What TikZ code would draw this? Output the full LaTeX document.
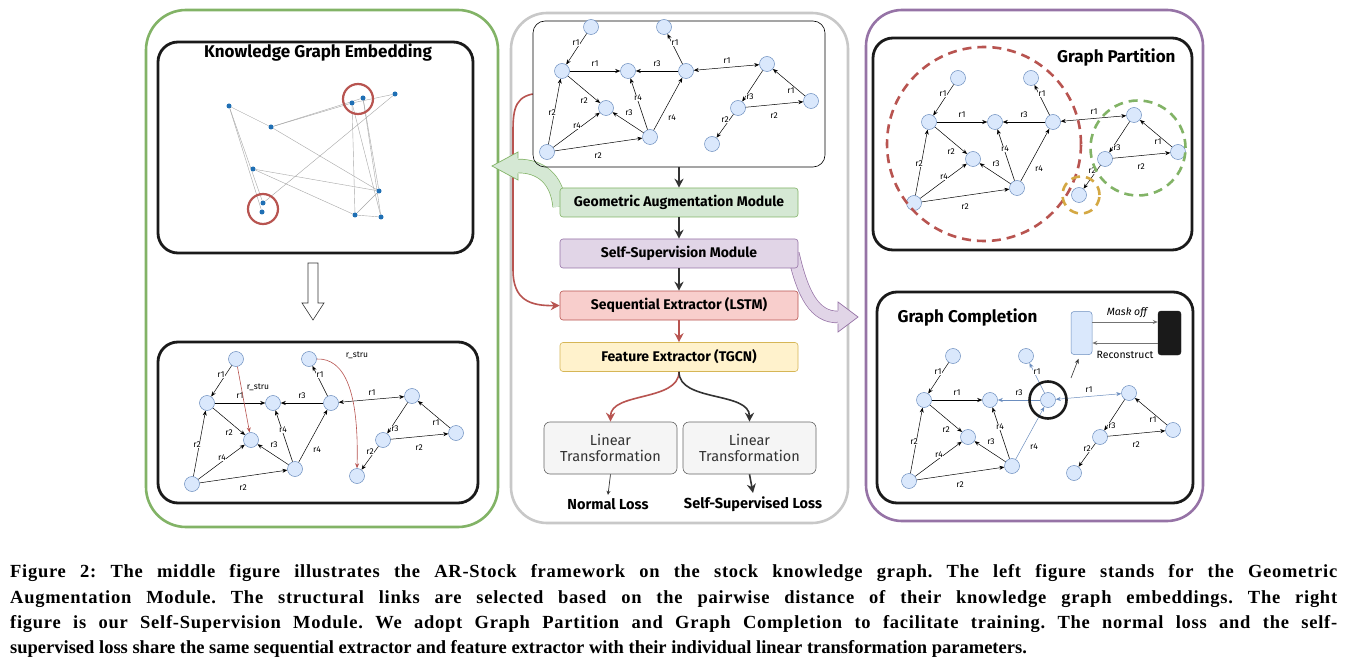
\documentclass[tikz,border=0pt]{standalone}
\usepackage{fontspec}
\setmainfont{Liberation Serif}
\newfontfamily\dfont{Fira Sans}
\newfontfamily\capwide[LetterSpace=4]{Liberation Serif}
\usetikzlibrary{arrows.meta,calc}
\pgfdeclarelayer{bg}
\pgfsetlayers{bg,main}
\definecolor{gstroke}{HTML}{82B366}
\definecolor{gfill}{HTML}{D5E8D4}
\definecolor{pstroke}{HTML}{9673A6}
\definecolor{pfill}{HTML}{E1D5E7}
\definecolor{rstroke}{HTML}{B85450}
\definecolor{rfill}{HTML}{F8CECC}
\definecolor{ystroke}{HTML}{D6B656}
\definecolor{yfill}{HTML}{FFF2CC}
\definecolor{nfill}{HTML}{DAE8FC}
\definecolor{nstroke}{HTML}{6C8EBF}
\definecolor{dk}{HTML}{333333}
\definecolor{emb}{HTML}{1F6FB4}
\definecolor{frgray}{HTML}{C8C8C8}
\definecolor{ltfill}{HTML}{F5F5F5}
\definecolor{ltstroke}{HTML}{666666}
\definecolor{orng}{HTML}{D4A843}
\definecolor{frame}{HTML}{1A1A1A}
\tikzset{
 gn/.style={circle,fill=nfill,draw=nstroke,line width=0.5pt,minimum size=15pt,inner sep=0pt},
 ge/.style={line width=0.5pt,-{Stealth[length=5pt,width=4pt]}},
 gbi/.style={line width=0.5pt,{Stealth[length=5pt,width=4pt]}-{Stealth[length=5pt,width=4pt]}},
 gl/.style={font=\dfont\fontsize{8.5}{9}\selectfont,fill=white,inner sep=0.4pt},
 bluee/.style={color=nstroke},
 modbox/.style={rectangle,rounded corners=3pt,line width=0.6pt,minimum width=238pt,minimum height=29pt,font=\dfont\bfseries\fontsize{14}{16}\selectfont},
 ltbox/.style={rectangle,rounded corners=6pt,line width=0.6pt,fill=ltfill,draw=ltstroke,minimum width=133pt,minimum height=52pt,align=center,text=dk,font=\dfont\fontsize{14.5}{16}\selectfont},
 losslab/.style={font=\dfont\bfseries\fontsize{14.5}{16}\selectfont},
 flowarr/.style={dk,line width=1.6pt,-{Stealth[length=9pt,width=9pt]}},
 redarr/.style={rstroke,line width=1.6pt,-{Stealth[length=9pt,width=9pt]}},
 embn/.style={circle,fill=emb,inner sep=0pt,minimum size=5pt},
 embe/.style={draw=black!35,line width=0.4pt},
 panelframe/.style={line width=2.8pt,rounded corners=20pt,draw=frame},
 ptitle/.style={font=\dfont\bfseries\fontsize{17}{19}\selectfont},
 capt/.style={font=\fontsize{18.5}{20}\selectfont\bfseries\frenchspacing,inner sep=0pt},
 captw/.style={font=\capwide\fontsize{18.5}{20}\selectfont\bfseries\frenchspacing,inner sep=0pt},
 rstru/.style={rstroke,line width=0.6pt,-{Stealth[length=5pt,width=4pt]}},
 smalltxt/.style={font=\dfont\fontsize{10.5}{12}\selectfont},
}
\newcommand\kgraph[4]{%
\begin{scope}[shift={(#2,#3)}]
\node[gn] (#1A) at (591,27) {};
\node[gn] (#1B) at (562,71) {};
\node[gn] (#1C) at (628,71) {};
\node[gn] (#1D) at (686,71) {};
\node[gn] (#1E) at (664,27) {};
\node[gn] (#1F) at (606,108) {};
\node[gn] (#1G) at (547,152) {};
\node[gn] (#1H) at (650,137) {};
\node[gn] (#1I) at (767,64) {};
\node[gn] (#1J) at (738,108) {};
\node[gn] (#1K) at (811,101) {};
\node[gn] (#1L) at (712,144) {};
\draw[ge] (#1A) -- (#1B);
\draw[ge] (#1B) -- (#1C);
\draw[ge] (#1B) -- (#1F);
\draw[ge] (#1G) -- (#1B);
\draw[ge] (#1G) -- (#1F);
\draw[ge] (#1G) -- (#1H);
\draw[ge] (#1H) -- (#1F);
\draw[ge] (#1H) -- (#1C);
\draw[ge] (#1I) -- (#1J);
\draw[ge] (#1K) -- (#1I);
\draw[ge] (#1J) -- (#1K);
\draw[ge] (#1J) -- (#1L);
\draw[ge,#4] (#1D) -- (#1C);
\draw[ge,#4] (#1D) -- (#1E);
\draw[gbi,#4] (#1D) -- (#1I);
\draw[ge,#4] (#1H) -- (#1D);
\node[gl] (#1l1) at (576,43) {r1};
\node[gl] (#1l2) at (595,64) {r1};
\node[gl] (#1l3) at (657,64) {r3};
\node[gl] (#1l4) at (675,43) {r1};
\node[gl] (#1l5) at (727,61) {r1};
\node[gl] (#1l6) at (750,97) {r3};
\node[gl] (#1l7) at (791,91) {r1};
\node[gl] (#1l8) at (774,116) {r2};
\node[gl] (#1l9) at (725,120) {r2};
\node[gl] (#1l10) at (584,101) {r2};
\node[gl] (#1l11) at (552,113) {r2};
\node[gl] (#1l12) at (577,126) {r4};
\node[gl] (#1l13) at (598,156) {r2};
\node[gl] (#1l14) at (629,113) {r3};
\node[gl] (#1l15) at (638,98) {r4};
\node[gl] (#1l16) at (672,118) {r4};
\end{scope}}
\begin{document}
\begin{tikzpicture}[x=1pt,y=-1pt]
\useasboundingbox (0,0) rectangle (1347,663);
% ---------- frames ----------
\begin{pgfonlayer}{bg}
\fill[white] (0,0) rectangle (1347,663);
\draw[gstroke,line width=2.6pt,rounded corners=40pt] (146,10) rectangle (498,527);
\draw[frgray,line width=2.6pt,rounded corners=36pt] (511,13) rectangle (848,523);
\draw[pstroke,line width=2.6pt,rounded corners=36pt] (866,10) rectangle (1203,521);
\draw[panelframe] (158,42) rectangle (473,253);
\draw[panelframe] (158,342) rectangle (478,503);
\draw[panelframe] (873,38) rectangle (1192,250);
\draw[panelframe] (877,292) rectangle (1193,503);
\end{pgfonlayer}
% ---------- left: embedding ----------
\node[ptitle] (kgetitle) at (318,52) {Knowledge Graph Embedding};
\node[embn] (e1) at (229,106) {};
\node[embn] (e2) at (271,127) {};
\node[embn] (e3) at (352,103) {};
\node[embn] (e4) at (363,98) {};
\node[embn] (e5) at (395,94) {};
\node[embn] (e6) at (253,169) {};
\node[embn] (e7) at (379,191) {};
\node[embn] (e8) at (263,203) {};
\node[embn] (e9) at (262,212) {};
\node[embn] (e10) at (355,215) {};
\node[embn] (e11) at (381,217) {};
\begin{pgfonlayer}{bg}
\draw[embe] (e1) -- (e2);
\draw[embe] (e1) -- (e9);
\draw[embe] (e1) -- (e8);
\draw[embe] (e2) -- (e3);
\draw[embe] (e2) -- (e4);
\draw[embe] (e2) -- (e7);
\draw[embe] (e6) -- (e7);
\draw[embe] (e6) -- (e10);
\draw[embe] (e3) -- (e10);
\draw[embe] (e3) -- (e11);
\draw[embe] (e4) -- (e11);
\draw[embe] (e4) -- (e7);
\draw[embe] (e5) -- (e3);
\draw[embe] (e5) -- (e8);
\draw[embe] (e7) -- (e10);
\draw[embe] (e10) -- (e11);
\end{pgfonlayer}
\node[circle,draw=rstroke,line width=2.2pt,minimum size=30pt] (ring1) at (358,99) {};
\node[circle,draw=rstroke,line width=2.2pt,minimum size=30pt] (ring2) at (263,209) {};
\draw[dk,line width=0.6pt,fill=white] (308,263) -- (318,263) -- (318,303) -- (324,303) -- (313,320) -- (302,303) -- (308,303) -- cycle;
% ---------- left: augmented graph ----------
\kgraph{l}{-355}{332}{}
\draw[rstru] (lA) -- (lF);
\draw[rstru] (lE.east) .. controls (345,358) and (359,392) .. (lL.north);
\node[gl,fill=none] (ls1) at (258,387) {r\_stru};
\node[gl,fill=none] (ls2) at (357,355) {r\_stru};
% ---------- middle ----------
\node[draw=black,line width=0.6pt,rounded corners=12pt,minimum width=292pt,minimum height=146pt] (mbox) at (679,94) {};
\kgraph{m}{0}{0}{}
\node[modbox,fill=gfill,draw=gstroke] (gam) at (679,202.5) {Geometric Augmentation Module};
\node[modbox,fill=pfill,draw=pstroke] (ssm) at (679,253.5) {Self-Supervision Module};
\node[modbox,fill=rfill,draw=rstroke] (lstm) at (679,305.5) {Sequential Extractor (LSTM)};
\node[modbox,fill=yfill,draw=ystroke] (tgcn) at (679,357) {Feature Extractor (TGCN)};
\node[ltbox] (lt1) at (610.5,448) {Linear\\Transformation};
\node[ltbox] (lt2) at (749.5,448) {Linear\\Transformation};
\node[losslab] (nl) at (608,504) {Normal Loss};
\node[losslab] (sl) at (753,504) {Self-Supervised Loss};
\draw[flowarr] (mbox.south) -- (gam.north);
\draw[flowarr] (gam.south) -- (ssm.north);
\draw[flowarr] (ssm.south) -- (lstm.north);
\draw[redarr] (lstm.south) -- (tgcn.north);
\draw[redarr] (tgcn.south) to[out=-90,in=90,looseness=0.9] (lt1.north);
\draw[flowarr] (tgcn.south) to[out=-90,in=90,looseness=0.9] (lt2.north);
\draw[dk,line width=0.7pt,-{Stealth[length=4pt,width=4pt]}] (lt1.south) -- (nl.north);
\draw[flowarr] (lt2.south) -- (sl.north);
\begin{pgfonlayer}{bg}
\draw[redarr] (mbox.west) .. controls (512,98) and (513,115) .. (513,140) -- (513,270) .. controls (513,300) and (530,306) .. (lstm.west);
% green flex arrow
\draw[gstroke,line width=0.7pt,double=gfill,double distance=13pt] ($(gam.west)+(0,4)$) .. controls (557,178) and (540,166) .. (518,166);
\path[fill=gfill] (518,158) -- (518,152) -- (492,166) -- (518,180) -- (518,174) -- cycle;
\draw[gstroke,line width=0.7pt] (518,158.5) -- (518,152) -- (492,166) -- (518,180) -- (518,173.5);
% purple flex arrow
\draw[pstroke,line width=0.7pt,double=pfill,double distance=11pt] ($(ssm.east)+(-5,0)$) .. controls (803,296) and (815,317) .. (838,317);
\path[fill=pfill] (838,310) -- (838,302) -- (858,317) -- (838,332) -- (838,324) -- cycle;
\draw[pstroke,line width=0.7pt] (838,310.5) -- (838,302) -- (858,317) -- (838,332) -- (838,323.5);
\end{pgfonlayer}
% ---------- right: partition ----------
\node[ptitle,anchor=east] (gptitle) at (1179,57) {Graph Partition};
\kgraph{p}{367}{51}{}
\node[circle,draw=rstroke,line width=2.6pt,dash pattern=on 9pt off 6pt,minimum size=194pt] (redpart) at (984,144) {};
\node[circle,draw=gstroke,line width=2.6pt,dash pattern=on 9pt off 6pt,minimum size=95pt] (greenpart) at (1138,148) {};
\node[circle,draw=orng,line width=2.6pt,dash pattern=on 9pt off 6pt,minimum size=37pt] (orpart) at (1081,195) {};
% ---------- right: completion ----------
\node[ptitle,anchor=west] (gctitle) at (894,317) {Graph Completion};
\kgraph{c}{362}{329}{bluee}
\node[circle,draw=frame,line width=2.6pt,minimum size=37pt] (cring) at (cD) {};
\node[rectangle,rounded corners=3pt,fill=nfill,draw=nstroke,line width=0.5pt,minimum width=21pt,minimum height=43pt] (mb) at (1081.5,333) {};
\node[rectangle,rounded corners=3pt,fill=frame,draw=frame,minimum width=23pt,minimum height=44pt] (bb) at (1169.5,333) {};
\draw[black!55,line width=0.8pt,-{Stealth[length=5pt,width=4pt]}] ([yshift=11pt]mb.east) -- ([yshift=11pt]bb.west);
\draw[black!55,line width=0.8pt,-{Stealth[length=5pt,width=4pt]}] ([yshift=-10pt]bb.west) -- ([yshift=-10pt]mb.east);
\node[smalltxt,font=\dfont\itshape\fontsize{10.5}{12}\selectfont] (mo) at (1127,313) {Mask off};
\node[smalltxt] (rc) at (1125,355) {Reconstruct};
\coordinate (sa) at (1071,378);
\draw[dk,line width=0.6pt,-{Stealth[length=5pt,width=4pt]}] (sa) -- ($(mb.south)+(-3,4)$);
% ---------- caption ----------
\node[captw,anchor=base west] (cap1) at (10,577) {\makebox[1327pt][s]{Figure 2: The middle figure illustrates the AR-Stock framework on the stock knowledge graph. The left figure stands for the Geometric}};
\node[captw,anchor=base west] (cap2) at (10,603) {\makebox[1327pt][s]{Augmentation Module. The structural links are selected based on the pairwise distance of their knowledge graph embeddings. The right}};
\node[captw,anchor=base west] (cap3) at (10,628) {\makebox[1327pt][s]{figure is our Self-Supervision Module. We adopt Graph Partition and Graph Completion to facilitate training. The normal loss and the self-}};
\node[capt,anchor=base west] (cap4) at (10,653) {supervised loss share the same sequential extractor and feature extractor with their individual linear transformation parameters.};
\end{tikzpicture}
\end{document}
